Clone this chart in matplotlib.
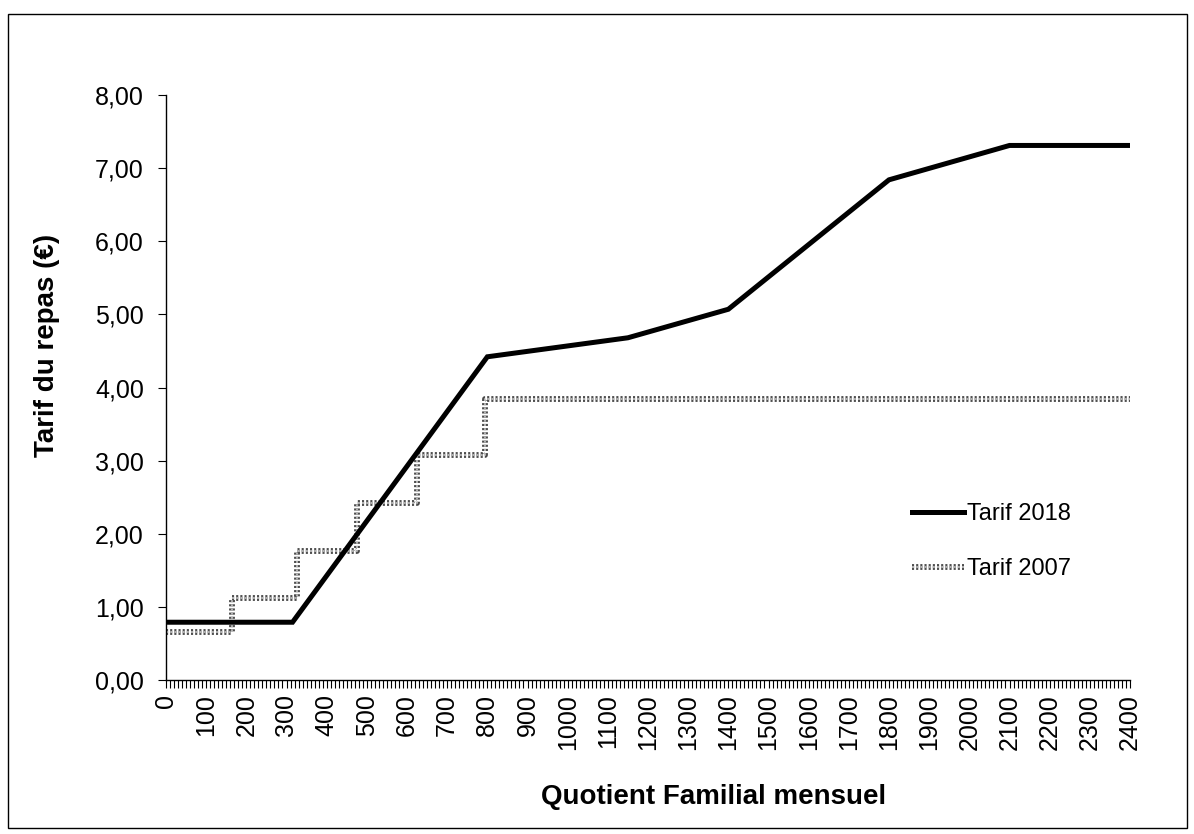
import matplotlib
matplotlib.use("Agg")
import matplotlib.pyplot as plt
import matplotlib.patheffects as pe
from matplotlib.ticker import MultipleLocator, FuncFormatter
from matplotlib.patches import Rectangle

plt.rcParams['font.family'] = ['Liberation Sans', 'DejaVu Sans']

# Tarif 2018 (piecewise linear breakpoints)
qf_2018 = [0, 315, 800, 1150, 1400, 1800, 2100, 2400]
tarif_2018 = [0.79, 0.79, 4.42, 4.68, 5.07, 6.84, 7.31, 7.31]

# Tarif 2007 (step function, value holds until next threshold)
qf_2007 = [0, 165, 325, 475, 625, 795, 2400]
tarif_2007 = [0.66, 1.12, 1.76, 2.42, 3.08, 3.84, 3.84]

x_ticks = list(range(0, 2401, 100))
y_ticks = [0, 1, 2, 3, 4, 5, 6, 7, 8]

W, H = 1194, 834
fig = plt.figure(figsize=(W / 100, H / 100), dpi=100)
ax = fig.add_axes([166 / W, 1 - 680 / H, (1130 - 166) / W, (680 - 95) / H])

ax.plot(qf_2018, tarif_2018, color='black', lw=3.6, solid_joinstyle='miter',
        label='Tarif 2018', zorder=3)
ax.plot(qf_2007, tarif_2007, drawstyle='steps-post', color='#b0b0b0', lw=1.5,
        linestyle=(0, (1, 1)),
        path_effects=[pe.withStroke(linewidth=4.2, foreground='#4a4a4a')],
        label='Tarif 2007', zorder=2)

ax.set_xlim(0, 2400)
ax.set_ylim(0, 8)
ax.set_xticks(x_ticks)
ax.set_xticklabels([str(v) for v in x_ticks], rotation=90)
ax.xaxis.set_minor_locator(MultipleLocator(10))
ax.set_yticks(y_ticks)
ax.yaxis.set_major_formatter(FuncFormatter(lambda v, p: f"{v:.2f}".replace('.', ',')))

for s in ['top', 'right']:
    ax.spines[s].set_visible(False)
for s in ['left', 'bottom']:
    ax.spines[s].set_linewidth(1.0)
    ax.spines[s].set_color('black')

ax.tick_params(axis='x', which='both', direction='out', length=6, width=0.8,
               labelsize=18, pad=4)
ax.tick_params(axis='y', which='major', direction='out', length=6, width=0.8,
               labelsize=18, pad=10)

ax.set_xlabel('Quotient Familial mensuel', fontsize=20, fontweight='bold')
ax.set_ylabel('Tarif du repas (€)', fontsize=20, fontweight='bold')
ax.xaxis.set_label_coords((714 - 166) / (1130 - 166), -(797 - 680) / (680 - 95))
ax.xaxis.label.set_va('center')
ax.yaxis.set_label_coords(-(166 - 47) / (1130 - 166), (680 - 345) / (680 - 95))
ax.yaxis.label.set_va('center')

leg = fig.legend(loc='upper left', bbox_to_anchor=(912 / W, 1 - 503 / H),
                 frameon=False, fontsize=17, handlelength=2.2, handletextpad=0.12,
                 labelspacing=1.4, borderaxespad=0, borderpad=0)

fig.patches.append(Rectangle((8 / W, 1 - 828 / H), (1187 - 8) / W, (828 - 14) / H,
                             transform=fig.transFigure, fill=False, edgecolor='black',
                             lw=1.0, zorder=0))

fig.savefig('out.png', dpi=100, facecolor='white')
